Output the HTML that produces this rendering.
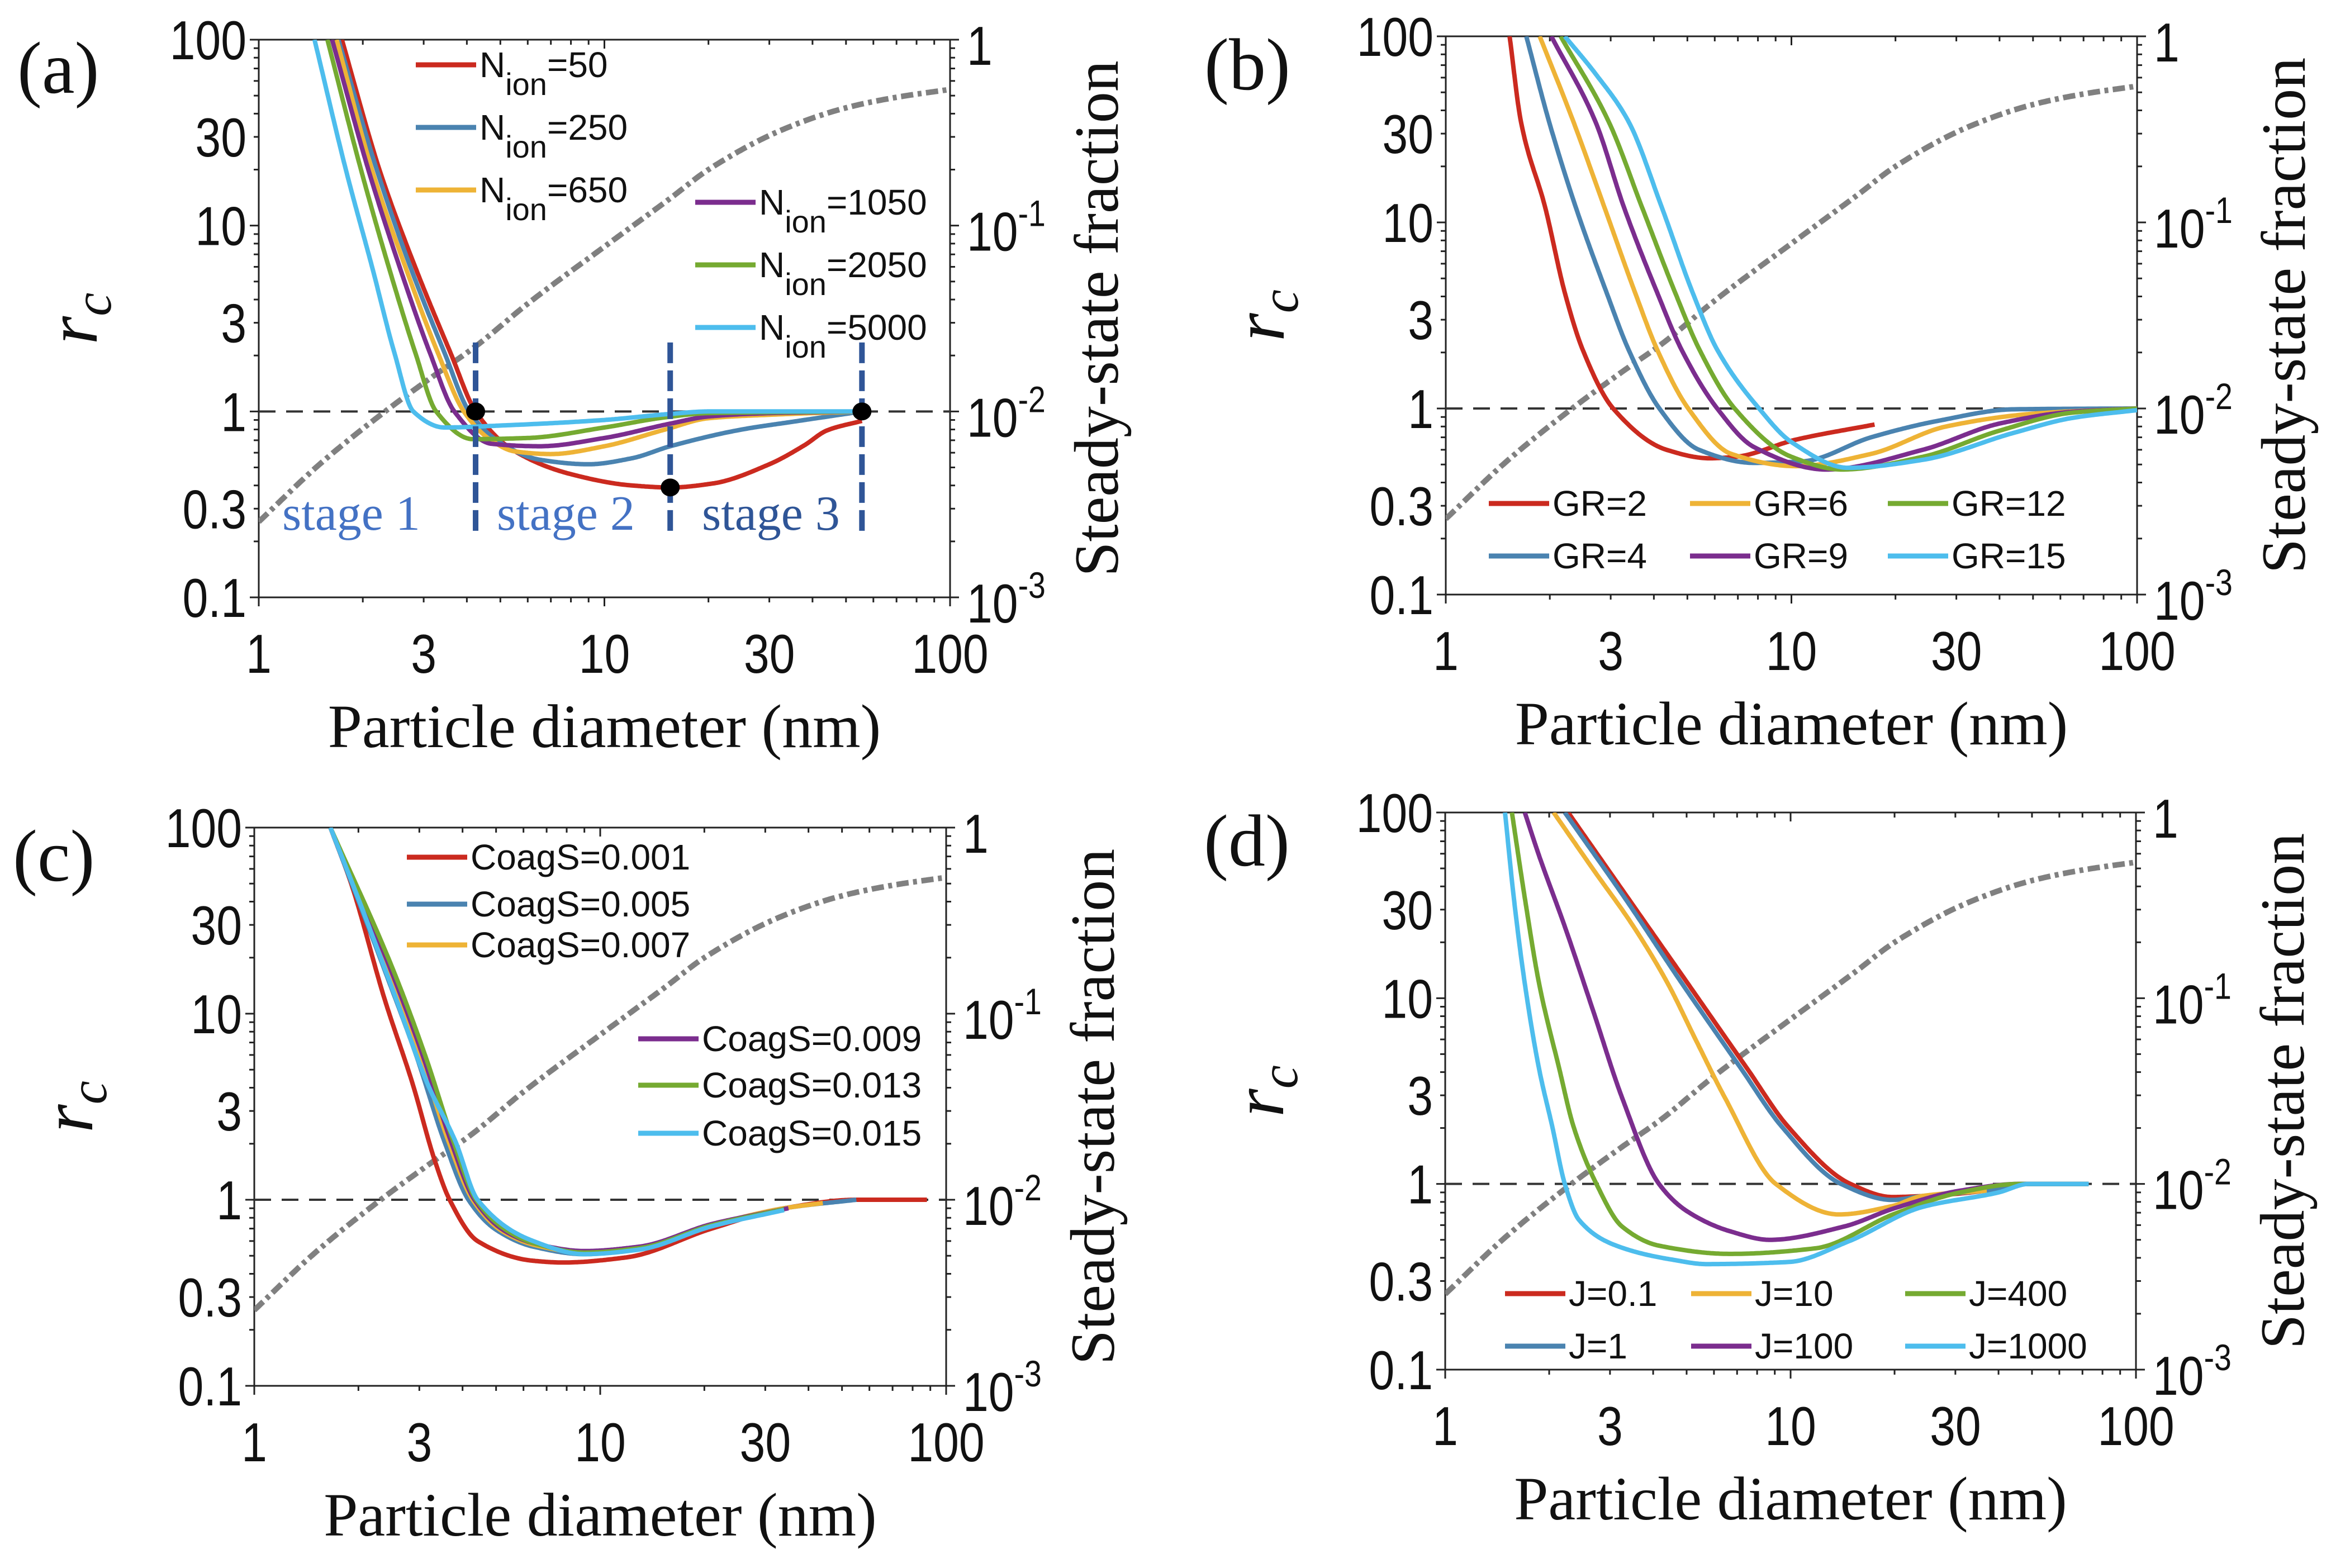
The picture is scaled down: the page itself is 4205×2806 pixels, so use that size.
<!DOCTYPE html>
<html><head><meta charset="utf-8"><style>
html,body{margin:0;padding:0;background:#fff}
svg{display:block}
.tick{font-family:"Liberation Sans",sans-serif;font-size:98px;fill:#111}
.serif{font-family:"Liberation Serif",serif;fill:#111}
.leg{font-family:"Liberation Sans",sans-serif;font-size:64px;fill:#111}
</style></head><body>
<svg id="fig" xmlns="http://www.w3.org/2000/svg" width="4205" height="2806" viewBox="0 0 4205 2806"></svg>
<script>
// ---------- shared data ----------
const fracD  = [1, 1.5, 2.32, 3.2, 4.24, 6, 10, 15.5, 20, 33, 50, 70, 100];
const fracRc = [0.255, 0.52, 1.0, 1.55, 2.24, 3.8, 7.7, 14, 20, 33, 43, 49, 54];
const yTickVals = [0.1, 0.3, 1, 3, 10, 30, 100];
const yTickLabels = ["0.1", "0.3", "1", "3", "10", "30", "100"];
const xTickVals = [1, 3, 10, 30, 100];
const xTickLabels = ["1", "3", "10", "30", "100"];
const rTickExp = ["-3", "-2", "-1", ""];

// ---------- panel (a) ----------
const aLabels = ["=50", "=250", "=650", "=1050", "=2050", "=5000"];
const aN50d   = [1.74, 2.24, 2.84, 3.59, 4.24, 5.44, 8, 12, 15.5, 20.6, 30, 38, 44, 55.6];
const aN50r   = [100, 19.7, 5.94, 2.06, 1.0, 0.62, 0.46, 0.40, 0.39, 0.41, 0.52, 0.66, 0.79, 0.89];
const aN250d  = [1.70, 2.20, 2.75, 3.45, 4.06, 5, 6.5, 9, 12, 15.5, 25, 35, 55.6];
const aN250r  = [100, 19.7, 5.94, 2.06, 1.0, 0.68, 0.55, 0.52, 0.56, 0.65, 0.80, 0.88, 1.0];
const aN650d  = [1.68, 2.13, 2.66, 3.30, 3.92, 4.7, 5.5, 7, 10, 15, 20, 30, 55.6];
const aN650r  = [100, 19.7, 5.94, 2.06, 1.0, 0.7, 0.61, 0.59, 0.65, 0.80, 0.92, 0.96, 1.0];
const aN1050d = [1.63, 2.08, 2.56, 3.13, 3.68, 4.72, 6.5, 10, 15.5, 20, 30, 55.6];
const aN1050r = [100, 19.7, 5.94, 2.06, 1.0, 0.67, 0.65, 0.72, 0.86, 0.94, 0.98, 1.0];
const aN2050d = [1.58, 1.98, 2.38, 2.84, 3.26, 4.16, 6, 10, 15, 20, 55.6];
const aN2050r = [100, 19.7, 5.94, 2.06, 1.0, 0.71, 0.72, 0.82, 0.93, 0.98, 1.0];
const aN5000d = [1.45, 1.79, 2.13, 2.47, 2.80, 3.45, 5, 10, 15.5, 20, 55.6];
const aN5000r = [100, 19.7, 5.94, 2.06, 1.0, 0.82, 0.84, 0.9, 0.97, 1.0, 1.0];
const aDotD = [4.24, 15.5, 55.6];
const aDotR = [1.0, 0.39, 1.0];

// ---------- panel (b) ----------
const bLabels = ["GR=2", "GR=4", "GR=6", "GR=9", "GR=12", "GR=15"];
const bGR2d  = [1.53, 1.65, 1.94, 2.21, 2.49, 3.05, 4.35, 5.8, 6.9, 10.3, 17.4];
const bGR2r  = [100, 34.8, 12, 4.19, 2.07, 1, 0.60, 0.54, 0.55, 0.68, 0.82];
const bGR4d  = [1.71, 1.99, 2.38, 2.92, 3.38, 4.15, 5.4, 7.8, 10.8, 17, 26.7, 44, 100];
const bGR4r  = [100, 34.8, 12, 4.19, 2.07, 1, 0.60, 0.51, 0.52, 0.7, 0.86, 0.99, 1.0];
const bGR6d  = [1.87, 2.34, 2.88, 3.53, 4.09, 5.03, 6.7, 10.3, 17, 28, 51, 100];
const bGR6r  = [100, 34.8, 12, 4.19, 2.07, 1, 0.57, 0.49, 0.57, 0.8, 0.94, 1.0];
const bGR9d  = [2.02, 2.71, 3.28, 4.09, 4.81, 6.1, 7.8, 12.6, 24, 40, 65, 100];
const bGR9r  = [100, 34.8, 12, 4.19, 2.07, 1, 0.62, 0.47, 0.6, 0.83, 0.96, 1.0];
const bGR12d = [2.15, 2.96, 3.70, 4.61, 5.42, 6.85, 10, 14, 24, 40, 65, 100];
const bGR12r = [100, 34.8, 12, 4.19, 2.07, 1, 0.55, 0.47, 0.55, 0.76, 0.95, 1.0];
const bGR15d = [2.21, 2.71, 3.38, 4.22, 5.18, 6.1, 8.06, 10, 14.6, 24, 44, 65, 100];
const bGR15r = [100, 63, 34.8, 12, 4.19, 2.07, 1, 0.66, 0.48, 0.53, 0.74, 0.89, 0.98];

// ---------- panel (c) ----------
const cLabels = ["CoagS=0.001", "CoagS=0.005", "CoagS=0.007", "CoagS=0.009", "CoagS=0.013", "CoagS=0.015"];
const c001d = [1.66, 1.91, 2.38, 2.87, 3.33, 3.67, 4.42, 6.4, 7.8, 11.9, 21, 34, 55, 88];
const c001r = [100, 49.4, 12, 4.19, 1.61, 1, 0.60, 0.47, 0.46, 0.49, 0.70, 0.9, 1.0, 1.0];
const c005d = [1.66, 2.38, 2.94, 3.54, 4.16, 5.0, 6.4, 9, 13, 21, 34, 55];
const c005r = [100, 17.2, 5.95, 2.07, 1, 0.69, 0.56, 0.51, 0.55, 0.72, 0.9, 1.0];
const c007d = [1.66, 2.44, 3.02, 3.64, 4.28, 5.2, 6.5, 9, 13, 21, 34, 44];
const c007r = [100, 17.2, 5.95, 2.07, 1, 0.68, 0.57, 0.52, 0.55, 0.73, 0.9, 0.96];
const c009d = [1.66, 2.48, 3.07, 3.70, 4.33, 5.3, 6.5, 9, 13, 21, 35];
const c009r = [100, 17.2, 5.95, 2.07, 1, 0.68, 0.58, 0.53, 0.56, 0.74, 0.9];
const c013d = [1.66, 2.52, 3.12, 3.76, 4.38, 5.4, 6.5, 9, 13, 21, 34];
const c013r = [100, 17.2, 5.95, 2.07, 1, 0.68, 0.58, 0.52, 0.55, 0.73, 0.89];
const c015d = [1.66, 2.0, 2.57, 3.17, 3.81, 4.42, 6.4, 9, 13, 21, 34];
const c015r = [100, 41.4, 12, 4.19, 2.07, 1, 0.60, 0.51, 0.54, 0.72, 0.88];

// ---------- panel (d) ----------
const dLabels = ["J=0.1", "J=1", "J=10", "J=100", "J=400", "J=1000"];
const dJ01d   = [2.27, 3.38, 5.04, 7.5, 9.8, 14.9, 19.7, 24, 40, 46, 73];
const dJ01r   = [100, 34.7, 12, 4.16, 2.05, 1, 0.85, 0.86, 0.94, 1.0, 1.0];
const dJ1d    = [2.22, 3.31, 4.85, 7.2, 9.4, 14.0, 19.7, 24, 40, 46, 73];
const dJ1r    = [100, 34.7, 12, 4.16, 2.05, 1, 0.82, 0.86, 0.94, 1.0, 1.0];
const dJ10d   = [2.06, 2.69, 3.51, 4.41, 5.33, 6.45, 9.06, 13.8, 19.7, 24, 37];
const dJ10r   = [100, 49, 24.3, 12, 5.9, 2.92, 1, 0.685, 0.76, 0.86, 0.92];
const dJ100d  = [1.70, 1.87, 2.22, 2.69, 3.25, 4.16, 5.03, 6.7, 8.7, 14.3, 20, 31, 46, 73];
const dJ100r  = [100, 58.5, 24.3, 8.4, 2.92, 1, 0.71, 0.555, 0.50, 0.59, 0.74, 0.92, 1.0, 1.0];
const dJ400d  = [1.56, 1.70, 1.87, 2.14, 2.35, 2.74, 3.25, 4.16, 6.7, 11.8, 20, 31, 46, 73];
const dJ400r  = [100, 34.7, 12, 4.16, 2.05, 1, 0.59, 0.465, 0.42, 0.45, 0.69, 0.9, 1.0, 1.0];
const dJ1000d = [1.49, 1.58, 1.70, 1.87, 2.04, 2.22, 2.44, 3.13, 4.58, 5.7, 9.9, 14.7, 24, 40, 49, 73];
const dJ1000r = [100, 34.7, 12, 4.16, 2.05, 1, 0.64, 0.465, 0.39, 0.37, 0.38, 0.49, 0.75, 0.9, 1.0, 1.0];

const COLORS = ["#cb2a1f", "#4a83b0", "#eeb336", "#7b2d8e", "#75aa31", "#4dbded"];
const NS = "http://www.w3.org/2000/svg";
const svg = document.getElementById("fig");

function mk(tag, attrs, parent) {
  const e = document.createElementNS(NS, tag);
  for (const k in attrs) e.setAttribute(k, attrs[k]);
  (parent || svg).appendChild(e);
  return e;
}
function axes(P) {
  const sx = v => P.L + Math.log10(v) / 2 * (P.R - P.L);
  const sy = v => P.B - (Math.log10(v) + 1) / 3 * (P.B - P.T);
  return { sx, sy };
}
// monotone cubic interpolation in log-log space, sampled to a polyline
function curvePath(ds, rs, sx, sy) {
  const u = ds.map(Math.log10), v = rs.map(Math.log10), n = u.length;
  if (n < 2) return "";
  const h = [], del = [];
  for (let i = 0; i < n - 1; i++) { h.push(u[i + 1] - u[i]); del.push((v[i + 1] - v[i]) / h[i]); }
  const m = new Array(n);
  m[0] = del[0]; m[n - 1] = del[n - 2];
  for (let i = 1; i < n - 1; i++) {
    if (del[i - 1] * del[i] <= 0) m[i] = 0;
    else {
      const w1 = 2 * h[i] + h[i - 1], w2 = h[i] + 2 * h[i - 1];
      m[i] = (w1 + w2) / (w1 / del[i - 1] + w2 / del[i]);
    }
  }
  const pts = [];
  for (let i = 0; i < n - 1; i++) {
    const N = 40;
    for (let k = 0; k < N; k++) {
      const t = k / N, t2 = t * t, t3 = t2 * t;
      const val = (2 * t3 - 3 * t2 + 1) * v[i] + (t3 - 2 * t2 + t) * h[i] * m[i] + (-2 * t3 + 3 * t2) * v[i + 1] + (t3 - t2) * h[i] * m[i + 1];
      const uu = u[i] + t * h[i];
      pts.push([sx(Math.pow(10, uu)), sy(Math.pow(10, val))]);
    }
  }
  pts.push([sx(ds[n - 1]), sy(rs[n - 1])]);
  return "M" + pts.map(p => p[0].toFixed(1) + "," + p[1].toFixed(1)).join(" L");
}
function narrowText(parent, x, y, anchor, cls, txt) {
  const t = mk("text", { x: 0, y: 0, "text-anchor": anchor, class: cls, transform: "translate(" + x + " " + y + ") scale(0.84 1)" }, parent);
  t.textContent = txt;
  return t;
}

function drawPanel(P, letter, series, names) {
  const g = mk("g", {});
  
  
  const { sx, sy } = axes(P);
  const clipId = "clip" + letter;
  const cp = mk("clipPath", { id: clipId }, g);
  mk("rect", { x: P.L, y: P.T, width: P.R - P.L, height: P.B - P.T }, cp);

  const fr = mk("rect", { x: P.L, y: P.T, width: P.R - P.L, height: P.B - P.T, fill: "none", stroke: "#222", "stroke-width": 3 }, g);
  
  

  const tg = mk("g", { stroke: "#222", "stroke-width": 3 }, g);
  
  
  for (let dec = 0; dec < 2; dec++) for (let m = 1; m <= 9; m++) {
    const val = Math.pow(10, dec) * m; const x = sx(val); const len = m === 1 ? 16 : 9;
    mk("line", { x1: x, x2: x, y1: P.B, y2: P.B + len }, tg);
    mk("line", { x1: x, x2: x, y1: P.T, y2: P.T + len }, tg);
  }
  mk("line", { x1: P.R, x2: P.R, y1: P.B, y2: P.B + 16 }, tg);
  for (let dec = -1; dec < 2; dec++) for (let m = 1; m <= 9; m++) {
    const val = Math.pow(10, dec) * m; const y = sy(val); const len = m === 1 ? 16 : 9;
    mk("line", { x1: P.L - len, x2: P.L, y1: y, y2: y }, tg);
    mk("line", { x1: P.R, x2: P.R + len, y1: y, y2: y }, tg);
  }
  mk("line", { x1: P.L - 16, x2: P.L, y1: P.T, y2: P.T }, tg);
  mk("line", { x1: P.R, x2: P.R + 16, y1: P.T, y2: P.T }, tg);

  yTickVals.forEach((val, i) => {
    const t = narrowText(g, P.L - 22, sy(val) + 35, "end", "tick", yTickLabels[i]);
    
    
  });
  xTickVals.forEach((val, i) => {
    const t = narrowText(g, sx(val), P.B + 135, "middle", "tick", xTickLabels[i]);
    
    
  });
  rTickExp.forEach((e, i) => {
    const y = sy(Math.pow(10, i - 1));
    const t = narrowText(g, P.R + 30, y + 45, "start", "tick", e === "" ? "1" : "10");
    
    
    if (e !== "") {
      const s = mk("tspan", { dy: -44, "font-size": "66" }, t);
      s.textContent = e;
    }
  });

  const xl = mk("text", { x: (P.L + P.R) / 2, y: P.B + 268, "text-anchor": "middle", class: "serif", "font-size": 110 }, g);
  xl.textContent = "Particle diameter (nm)";
  
  
  const ylx = P.L - 290, yly = (P.T + P.B) / 2;
  const yl = mk("text", { x: ylx, y: yly, "text-anchor": "middle", class: "serif", "font-size": 130, "font-style": "italic", transform: "rotate(-90 " + ylx + " " + yly + ")" }, g);
  yl.textContent = "r";
  const sub = mk("tspan", { dy: 25, "font-size": 95 }, yl);
  sub.textContent = "c";
  
  
  const rlx = P.R + 300, rly = (P.T + P.B) / 2;
  const rl = mk("text", { x: rlx, y: rly, "text-anchor": "middle", class: "serif", "font-size": 112, transform: "rotate(-90 " + rlx + " " + rly + ")" }, g);
  rl.textContent = "Steady-state fraction";
  
  
  const pl = mk("text", { x: P.L - 432, y: P.T + 95, class: "serif", "font-size": 132 }, g);
  pl.textContent = "(" + letter + ")";
  
  

  const pc = mk("g", { "clip-path": "url(#" + clipId + ")" }, g);
  const ref = mk("line", { x1: P.L, x2: P.R, y1: sy(1), y2: sy(1), stroke: "#333", "stroke-width": 4, "stroke-dasharray": "30 19" }, pc);
  
  
  const fp = mk("path", { d: curvePath(fracD, fracRc, sx, sy), fill: "none", stroke: "#808080", "stroke-width": 10, "stroke-dasharray": "22 8 7 8" }, pc);
  
  
  series.forEach((s, i) => {
    const p = mk("path", { d: curvePath(s[0], s[1], sx, sy), fill: "none", stroke: COLORS[i], "stroke-width": 8, "stroke-linejoin": "round" }, pc);
    
    
  });
  return { g, sx, sy };
}

function legendEntry(g, x, y, color, name, build) {
  const e = mk("g", {}, g);
  
  
  mk("line", { x1: x, x2: x + 108, y1: y, y2: y, stroke: color, "stroke-width": 9 }, e);
  const t = mk("text", { x: x + 114, y: y + 22, class: "leg" }, e);
  build(t);
}

// panel a
const PA = { L: 463, R: 1700, T: 71, B: 1069 };
const aSeries = [[aN50d, aN50r], [aN250d, aN250r], [aN650d, aN650r], [aN1050d, aN1050r], [aN2050d, aN2050r], [aN5000d, aN5000r]];
const A = drawPanel(PA, "a", aSeries, ["nion-50", "nion-250", "nion-650", "nion-1050", "nion-2050", "nion-5000"]);
aDotD.forEach((d, i) => {
  const l = mk("line", { x1: A.sx(d), x2: A.sx(d), y1: A.sy(2.35), y2: A.sy(0.225), stroke: "#2f5597", "stroke-width": 10, "stroke-dasharray": "37 13" }, A.g);
  
  
});
aDotD.forEach((d, i) => {
  const c = mk("ellipse", { cx: A.sx(d), cy: A.sy(aDotR[i]), rx: 17, ry: 16, fill: "#000" }, A.g);
  
  
});
[["stage 1", 505, "#4472c4"], ["stage 2", 889, "#4472c4"], ["stage 3", 1256, "#2f5597"]].forEach(s => {
  const t = mk("text", { x: s[1], y: 948, class: "serif", "font-size": 88 }, A.g);
  t.style.fill = s[2];
  t.textContent = s[0];
  
  
});
const aLegPos = [[744, 116], [744, 228], [744, 340], [1244, 362], [1244, 474], [1244, 586]];
aLegPos.forEach((p, i) => legendEntry(A.g, p[0], p[1], COLORS[i], "nion" + aLabels[i].slice(1), t => {
  t.textContent = "N";
  const s = mk("tspan", { dy: 32, "font-size": 56 }, t); s.textContent = "ion";
  const r = mk("tspan", { dy: -32 }, t); r.textContent = aLabels[i];
}));

// panel b
const PB = { L: 2587, R: 3824, T: 65, B: 1064 };
const B = drawPanel(PB, "b", [[bGR2d, bGR2r], [bGR4d, bGR4r], [bGR6d, bGR6r], [bGR9d, bGR9r], [bGR12d, bGR12r], [bGR15d, bGR15r]], ["gr-2", "gr-4", "gr-6", "gr-9", "gr-12", "gr-15"]);
const bLegPos = [[2664, 901], [2664, 995], [3024, 901], [3024, 995], [3378, 901], [3378, 995]];
bLegPos.forEach((p, i) => legendEntry(B.g, p[0], p[1], COLORS[i], bLabels[i].toLowerCase(), t => { t.textContent = bLabels[i]; }));

// panel c
const PC = { L: 455, R: 1693, T: 1481, B: 2480 };
const C = drawPanel(PC, "c", [[c001d, c001r], [c005d, c005r], [c007d, c007r], [c009d, c009r], [c013d, c013r], [c015d, c015r]], ["coags-0.001", "coags-0.005", "coags-0.007", "coags-0.009", "coags-0.013", "coags-0.015"]);
const cLegPos = [[728, 1534], [728, 1618], [728, 1691], [1142, 1859], [1142, 1942], [1142, 2028]];
cLegPos.forEach((p, i) => legendEntry(C.g, p[0], p[1], COLORS[i], cLabels[i].toLowerCase(), t => { t.textContent = cLabels[i]; }));

// panel d
const PD = { L: 2586, R: 3822, T: 1454, B: 2451 };
const D = drawPanel(PD, "d", [[dJ01d, dJ01r], [dJ1d, dJ1r], [dJ10d, dJ10r], [dJ100d, dJ100r], [dJ400d, dJ400r], [dJ1000d, dJ1000r]], ["j-0.1", "j-1", "j-10", "j-100", "j-400", "j-1000"]);
const dLegPos = [[2693, 2315], [2693, 2409], [3026, 2315], [3026, 2409], [3409, 2315], [3409, 2409]];
dLegPos.forEach((p, i) => legendEntry(D.g, p[0], p[1], COLORS[i], dLabels[i].toLowerCase(), t => { t.textContent = dLabels[i]; }));
</script>
</body></html>
